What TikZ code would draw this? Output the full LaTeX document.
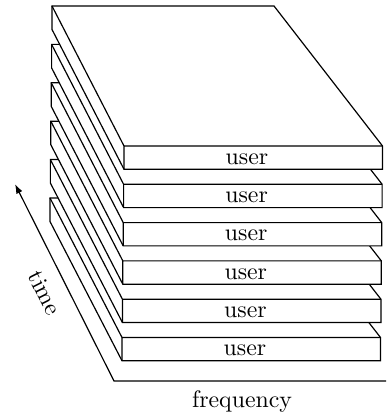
\documentclass[tikz,border=0pt]{standalone}
\usetikzlibrary{arrows.meta}
\begin{document}
\begin{tikzpicture}[x=0.42pt,y=-0.42pt,
  slabfill/.style={fill=white,draw=black,line width=0.5pt,line join=miter},
  slabedge/.style={draw=black,line width=0.5pt},
  axisline/.style={draw=black,line width=0.5pt},
  lbl/.style={font=\fontsize{10}{12}\selectfont,inner sep=0pt}]
\useasboundingbox (0,0) rectangle (386,417);
% axes
\coordinate (axend) at (386,381);
\coordinate (axcorner) at (114,381);
\coordinate (axtip) at (15,184);
\draw[axisline,-{Latex[length=4pt,width=2.8pt]}] (axend) -- (axcorner) -- (axtip);
\node[lbl,rotate=-63.3] (time) at (45,293) {time};
\node[lbl,anchor=base] (freq) at (242,407) {frequency};
% slabs, bottom first
\foreach \i in {5,4,3,2,1,0} {
  \pgfmathsetmacro\blx{52-0.4*\i}
  \pgfmathsetmacro\brx{274-0.4*\i}
  \pgfmathsetmacro\flx{124-0.4*\i}
  \pgfmathsetmacro\frx{382.5-0.4*\i}
  \pgfmathsetmacro\by{6+38.4*\i}
  \pgfmathsetmacro\fy{146+38.3*\i}
  \pgfmathsetmacro\byb{\by+23.5}
  \pgfmathsetmacro\fyb{\fy+23.3}
  \pgfmathsetmacro\tx{247-0.4*\i}
  \pgfmathsetmacro\ty{\fy+18.3}
  \coordinate (BL\i) at (\blx,\by);
  \coordinate (BR\i) at (\brx,\by);
  \coordinate (FL\i) at (\flx,\fy);
  \coordinate (FR\i) at (\frx,\fy);
  \coordinate (BLb\i) at (\blx,\byb);
  \coordinate (FLb\i) at (\flx,\fyb);
  \coordinate (FRb\i) at (\frx,\fyb);
  \draw[slabfill] (BL\i) -- (BR\i) -- (FR\i) -- (FRb\i) -- (FLb\i) -- (BLb\i) -- cycle;
  \draw[slabedge] (BL\i) -- (FL\i) -- (FR\i) (FL\i) -- (FLb\i);
  \node[lbl,anchor=base] (user\i) at (\tx,\ty) {user};
}
\end{tikzpicture}
\end{document}
